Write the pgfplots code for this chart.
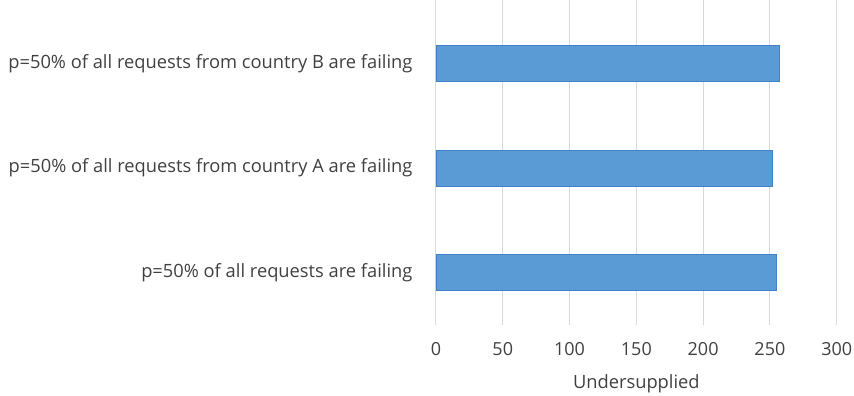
\documentclass[border=0pt]{standalone}
\usepackage{pgfplots}
\pgfplotsset{compat=1.18}
\usepackage{fontspec}
\setmainfont{Open Sans}
\definecolor{barblue}{HTML}{5B9BD5}
\definecolor{baredge}{HTML}{3E83C9}
\definecolor{gridgray}{HTML}{D9D9D9}
\definecolor{txt}{HTML}{404040}
\begin{document}
\begin{tikzpicture}[x=1pt,y=1pt]
\path[use as bounding box] (0,0) rectangle (854,396);
\begin{axis}[
  at={(436pt,71.3pt)}, anchor=south west,
  scale only axis, width=400.7pt, height=324.7pt,
  xbar, bar width=0.345,
  xmin=0, xmax=300, ymin=-0.5, ymax=2.61,
  xtick={0,50,...,300},
  ytick={0,1,2},
  yticklabels={p=50\% of all requests are failing, p=50\% of all requests from country A are failing, p=50\% of all requests from country B are failing},
  xmajorgrids, major grid style={gridgray, line width=1pt},
  axis x line*=bottom,
  x axis line style={draw=none},
  axis y line*=left,
  y axis line style={gridgray, line width=1pt, -},
  major tick length=0pt,
  /pgf/number format/assume math mode=true,
  tick label style={font=\fontsize{18}{21}\selectfont, text=txt},
  yticklabel style={xshift=-20pt, font=\fontsize{18.3}{21}\selectfont},
  xticklabel style={anchor=center, yshift=-24pt},
  xlabel={Undersupplied},
  xlabel style={font=\fontsize{18.3}{21}\selectfont, text=txt, anchor=center, at={(axis description cs:0.5,0)}, yshift=-59pt},
]
\addplot[fill=barblue, draw=baredge, line width=0.6pt] coordinates {(254.5,0) (251.7,1) (257,2)};
\end{axis}
\end{tikzpicture}
\end{document}
